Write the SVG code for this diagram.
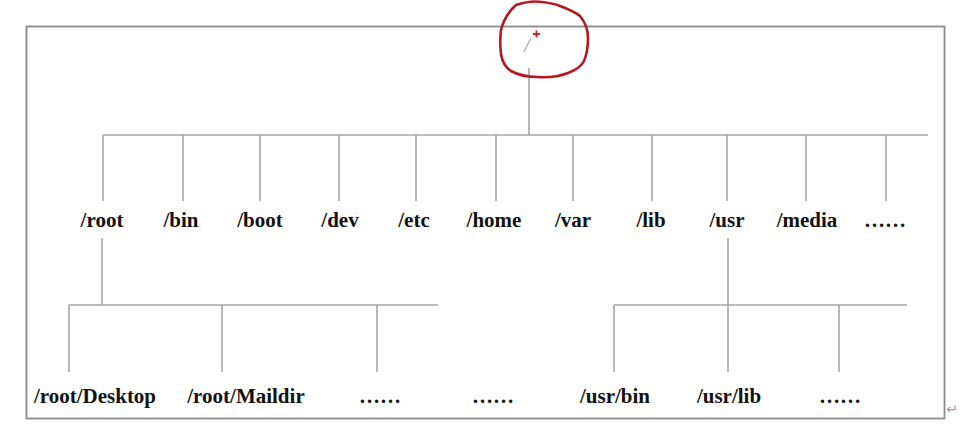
<svg xmlns="http://www.w3.org/2000/svg" width="974" height="433" viewBox="0 0 974 433">
<style>
.ln{stroke:#a6a6a6;stroke-width:1.6;fill:none}
.lbl{font-family:"Liberation Serif","Times New Roman",serif;font-weight:bold;font-size:21px;fill:#111;text-anchor:middle}
</style>
<rect width="974" height="433" fill="#fff"/>
<rect x="26.5" y="26.5" width="918" height="392" fill="none" stroke="#8a8a8a" stroke-width="1.8"/>
<text x="952" y="414" font-family="DejaVu Sans, sans-serif" font-size="14" fill="#9a9a9a" text-anchor="middle">↵</text>
<g id="connectors">
<path class="ln" d="M529 68V135M103 135H928M103 135V201M183 135V201M260 135V201M339 135V201M416 135V201M496 135V201M573 135V201M652 135V201M727 135V201M806 135V201M886 135V201"/>
<path class="ln" d="M102 238V305M69 305H438M69 305V372M222 305V372M377 305V372"/>
<path class="ln" d="M728 238V305M614 305H907M614 305V372M728 305V372M839 305V372"/>
</g>
<g id="root">
<path d="M516 5 C525 2 535 1 542 2 C550 3 556 4 560 6 C568 9 575 12 580 16 C585 22 588 30 588 38 C588 46 587 54 584 61 C581 67 576 70 568 73 C560 76 550 78 538 77 C528 77 518 75 511 71 C505 67 502 61 501 54 C500 46 500 38 501 30 C503 22 507 13 516 5 Z" fill="none" stroke="#b5171f" stroke-width="2.6" stroke-linejoin="round"/>
<text x="527" y="52" font-family="Liberation Serif, serif" font-style="italic" font-size="20" fill="#9a9a9a" text-anchor="middle">/</text>
<path d="M533 34H540M536.5 30.5V37.5" stroke="#d0202a" stroke-width="1.8"/>
</g>
<g id="n-root"><text class="lbl" x="102" y="227">/root</text></g>
<g id="n-bin"><text class="lbl" x="181" y="227">/bin</text></g>
<g id="n-boot"><text class="lbl" x="260" y="227">/boot</text></g>
<g id="n-dev"><text class="lbl" x="340" y="227">/dev</text></g>
<g id="n-etc"><text class="lbl" x="414" y="227">/etc</text></g>
<g id="n-home"><text class="lbl" x="494" y="227">/home</text></g>
<g id="n-var"><text class="lbl" x="573" y="227">/var</text></g>
<g id="n-lib"><text class="lbl" x="651" y="227">/lib</text></g>
<g id="n-usr"><text class="lbl" x="727" y="227">/usr</text></g>
<g id="n-media"><text class="lbl" x="807" y="227">/media</text></g>
<g id="n-more1"><text class="lbl" x="885" y="227">……</text></g>
<g id="n-desktop"><text class="lbl" x="95" y="403">/root/Desktop</text></g>
<g id="n-maildir"><text class="lbl" x="246" y="403">/root/Maildir</text></g>
<g id="n-more2"><text class="lbl" x="380" y="403">……</text></g>
<g id="n-more3"><text class="lbl" x="493" y="403">……</text></g>
<g id="n-usrbin"><text class="lbl" x="615" y="403">/usr/bin</text></g>
<g id="n-usrlib"><text class="lbl" x="729" y="403">/usr/lib</text></g>
<g id="n-more4"><text class="lbl" x="840" y="403">……</text></g>
</svg>
